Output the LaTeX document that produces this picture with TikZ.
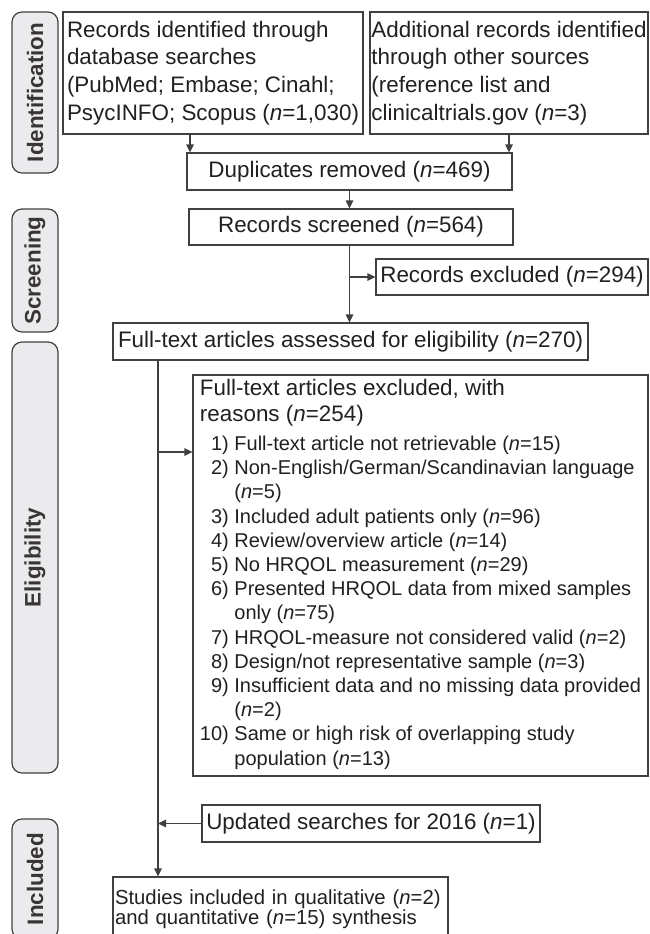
\documentclass[tikz,border=0pt]{standalone}
\usepackage{fontspec}
\setmainfont{Liberation Sans}
\usetikzlibrary{arrows.meta}
\definecolor{txt}{HTML}{231F20}
\definecolor{ln}{HTML}{404040}
\definecolor{sidefill}{HTML}{EBEBED}
\begin{document}
\begin{tikzpicture}[x=1pt,y=-1pt,
  box/.style={draw=ln, line width=1.2pt, inner sep=0pt, text=txt,
    font=\fontsize{22.4}{27.7}\selectfont},
  sidebox/.style={draw=ln, fill=sidefill, line width=1.2pt, rounded corners=10pt,
    rotate=90, inner sep=0pt, minimum height=46pt, text=txt!90,
    font=\fontsize{22.4}{27}\selectfont\bfseries},
  arr/.style={draw=ln, line width=1.2pt, -{Triangle[length=8pt,width=7.5pt]}}
]
\useasboundingbox (0,0) rectangle (649,934);
\clip (0,0) rectangle (649,934);

% phase labels
\node[sidebox, minimum width=161pt] (sid) at (35,92.5) {Identification};
\node[sidebox, minimum width=123pt] (sscr) at (35,270.5) {Screening};
\node[sidebox, minimum width=431pt] (selig) at (35,557.5) {Eligibility};
\node[sidebox, minimum width=120pt] (sincl) at (35,879) {Included};

% boxes
\node[box, minimum width=300pt, minimum height=122pt, align=left] (b1) at (213,73)
  {Records identified through\\database searches\\(PubMed; Embase; Cinahl;\\PsycINFO; Scopus (\textit{n}=1,030)};
\node[box, minimum width=278pt, minimum height=122pt, align=left] (b2) at (509,73)
  {Additional records identified\\through other sources\\(reference list and\\clinicaltrials.gov (\textit{n}=3)};
\node[box, minimum width=325pt, minimum height=37pt] (dup) at (349.5,171.5)
  {Duplicates removed (\textit{n}=469)};
\node[box, minimum width=324pt, minimum height=36pt] (scr) at (351,227)
  {Records screened (\textit{n}=564)};
\node[box, minimum width=272pt, minimum height=36pt] (rex) at (512,277)
  {Records excluded (\textit{n}=294)};
\node[box, minimum width=475pt, minimum height=37pt] (full) at (350.5,341.5)
  {Full-text articles assessed for eligibility (\textit{n}=270)};
\node[box, minimum width=455pt, minimum height=401pt] (fex) at (420.5,575.5)
  {\fontsize{20}{24.2}\selectfont
   \begin{tabular}{@{}r@{\ }l@{}}
   \multicolumn{2}{@{}l@{}}{\fontsize{22.4}{24.2}\selectfont Full-text articles excluded, with}\\[1.8pt]
   \multicolumn{2}{@{}l@{}}{\fontsize{22.4}{24.2}\selectfont reasons (\textit{n}=254)}\\[4.8pt]
   1) & Full-text article not retrievable (\textit{n}=15)\\
   2) & Non-English/German/Scandinavian language\\
      & (\textit{n}=5)\\
   3) & Included adult patients only (\textit{n}=96)\\
   4) & Review/overview article (\textit{n}=14)\\
   5) & No HRQOL measurement (\textit{n}=29)\\
   6) & Presented HRQOL data from mixed samples\\
      & only (\textit{n}=75)\\
   7) & HRQOL-measure not considered valid (\textit{n}=2)\\
   8) & Design/not representative sample (\textit{n}=3)\\
   9) & Insufficient data and no missing data provided\\
      & (\textit{n}=2)\\
   10) & Same or high risk of overlapping study\\
      & population (\textit{n}=13)
   \end{tabular}};
\node[box, minimum width=338pt, minimum height=37pt] (upd) at (371,823.5)
  {Updated searches for 2016 (\textit{n}=1)};
\node[box, minimum width=335pt, minimum height=64pt, text width=331pt, align=left,
  inner xsep=2pt, font=\fontsize{20.3}{20}\selectfont] (stud) at (280.5,909)
  {Studies included in qualitative (\textit{n}=2)\\and quantitative (\textit{n}=15) synthesis};

% connectors
\coordinate (a1) at (190,0);
\coordinate (a2) at (349.5,0);
\coordinate (a3) at (158,0);
\coordinate (a4) at (0,452);
\draw[arr] (b1.south -| a1) -- (dup.north -| a1);
\draw[arr] (b2.south) -- (b2.south |- dup.north);
\draw[arr] (dup.south -| a2) -- (scr.north -| a2);
\draw[arr] (scr.south -| a2) -- (full.north -| a2);
\draw[arr] (rex.west -| a2) -- (rex.west);
\draw[arr] (full.south -| a3) -- (stud.north -| a3);
\draw[arr] (a3 |- a4) -- (fex.west |- a4);
\draw[arr] (upd.west) -- (upd.west -| a3);
\end{tikzpicture}
\end{document}
